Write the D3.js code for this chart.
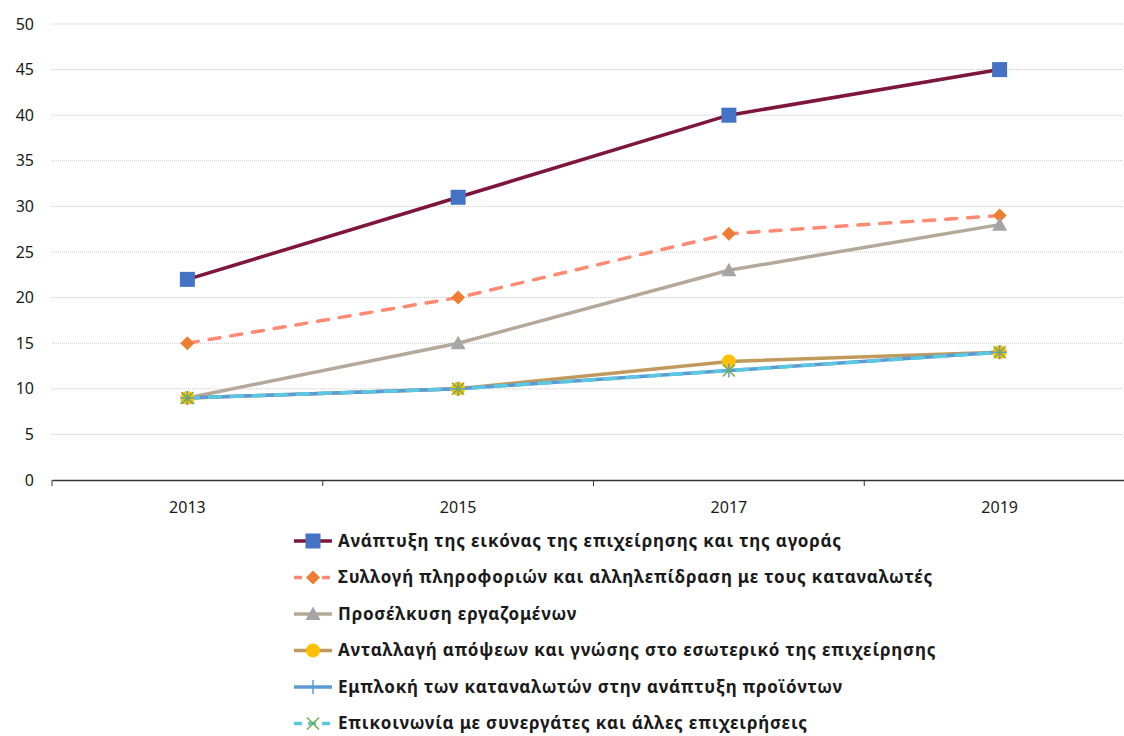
<!DOCTYPE html>
<html>
<head>
<meta charset="utf-8">
<script src="https://cdn.jsdelivr.net/npm/d3@7"></script>
<style>
  body { margin: 0; background: #fff; }
  svg text { font-family: "Noto Sans", sans-serif; fill: #1a1a1a; }
</style>
</head>
<body>
<div id="chart"></div>
<script>
const years = ["2013", "2015", "2017", "2019"];
const yTicks = [0, 5, 10, 15, 20, 25, 30, 35, 40, 45, 50];

const seriesNames = [
  "Ανάπτυξη της εικόνας της επιχείρησης και της αγοράς",
  "Συλλογή πληροφοριών και αλληλεπίδραση με τους καταναλωτές",
  "Προσέλκυση εργαζομένων",
  "Ανταλλαγή απόψεων και γνώσης στο εσωτερικό της επιχείρησης",
  "Εμπλοκή των καταναλωτών στην ανάπτυξη προϊόντων",
  "Επικοινωνία με συνεργάτες και άλλες επιχειρήσεις"
];
const imageValues = [22, 31, 40, 45];
const infoValues = [15, 20, 27, 29];
const recruitValues = [9, 15, 23, 28];
const exchangeValues = [9, 10, 13, 14];
const involveValues = [9, 10, 12, 14];
const partnerValues = [9, 10, 12, 14];

const styles = [
  {line: "#7d1638", marker: "square", mcolor: "#4472c4", dash: null},
  {line: "#ff8a73", marker: "diamond", mcolor: "#ed7d31", dash: "11,11"},
  {line: "#b5a899", marker: "triangle", mcolor: "#a5a5a5", dash: null},
  {line: "#c09a5c", marker: "circle", mcolor: "#ffc000", dash: null},
  {line: "#5b9bd5", marker: "plus", mcolor: "#5b9bd5", dash: null},
  {line: "#5bc8e0", marker: "cross", mcolor: "#70ad47", dash: "11,11"}
];
const allValues = [imageValues, infoValues, recruitValues, exchangeValues, involveValues, partnerValues];
const series = seriesNames.map((name, i) => ({name, values: allValues[i], style: styles[i]}));

const width = 1124, height = 736;
const margin = {top: 24, left: 52};
const plotRight = 1135, plotBottom = 480;

const svg = d3.select("#chart").append("svg")
  .attr("width", width).attr("height", height);

const x = d3.scaleBand().domain(years).range([margin.left, plotRight]);
const y = d3.scaleLinear().domain([0, 50]).range([plotBottom, margin.top]);

// gridlines
svg.append("g").selectAll("line")
  .data(yTicks.filter(d => d > 0))
  .enter().append("line")
  .attr("x1", margin.left).attr("x2", plotRight)
  .attr("y1", d => y(d)).attr("y2", d => y(d))
  .attr("stroke", "#c8c8c8").attr("stroke-width", 1)
  .attr("stroke-dasharray", "1,1");

// y labels
svg.append("g").selectAll("text")
  .data(yTicks).enter().append("text")
  .attr("x", 34).attr("y", d => y(d))
  .attr("dy", "0.35em").attr("text-anchor", "end")
  .attr("font-size", 16).text(d => d);

// x axis
const xAxis = d3.axisBottom(x).tickSize(0).tickSizeOuter(0);
const gx = svg.append("g").attr("transform", `translate(0,${plotBottom})`).call(xAxis);
gx.select(".domain").attr("stroke", "#333").attr("stroke-width", 1.3);
gx.selectAll(".tick text").attr("font-size", 16).attr("dy", 0).attr("y", 33)
  .attr("font-family", "Noto Sans").attr("fill", "#1a1a1a");
// category boundary ticks
svg.append("g").selectAll("line")
  .data(years).enter().append("line")
  .attr("x1", d => x(d)).attr("x2", d => x(d))
  .attr("y1", plotBottom).attr("y2", plotBottom + 6)
  .attr("stroke", "#333").attr("stroke-width", 1);

const line = d3.line()
  .x((d, i) => x(years[i]) + x.bandwidth() / 2)
  .y(d => y(d));

function drawMarker(g, type, color, cx, cy, s) {
  if (type === "square") {
    g.append("rect").attr("x", cx - 7.5).attr("y", cy - 7.5).attr("width", 15).attr("height", 15).attr("fill", color);
  } else if (type === "diamond") {
    const r = 7 * s;
    g.append("path").attr("d", `M${cx},${cy - r}L${cx + r},${cy}L${cx},${cy + r}L${cx - r},${cy}Z`).attr("fill", color);
  } else if (type === "triangle") {
    const r = 7.5 * s;
    g.append("path").attr("d", `M${cx},${cy - r}L${cx + r},${cy + r * 0.8}L${cx - r},${cy + r * 0.8}Z`).attr("fill", color);
  } else if (type === "circle") {
    g.append("circle").attr("cx", cx).attr("cy", cy).attr("r", 7 * s).attr("fill", color);
  } else if (type === "plus") {
    const r = 7 * s;
    g.append("path").attr("d", `M${cx},${cy - r}V${cy + r}M${cx - r},${cy}H${cx + r}`).attr("stroke", color).attr("stroke-width", 1.5);
  } else if (type === "cross") {
    const r = 6 * s;
    g.append("path").attr("d", `M${cx - r},${cy - r}L${cx + r},${cy + r}M${cx - r},${cy + r}L${cx + r},${cy - r}`).attr("stroke", color).attr("stroke-width", 1.5);
  }
}

// lines
const linesG = svg.append("g");
series.forEach(s => {
  linesG.append("path")
    .attr("d", line(s.values))
    .attr("fill", "none")
    .attr("stroke", s.style.line)
    .attr("stroke-width", 3.5)
    .attr("stroke-linecap", "round")
    .attr("stroke-dasharray", s.style.dash);
});
// markers
const markG = svg.append("g");
series.forEach(s => {
  s.values.forEach((v, i) => {
    drawMarker(markG, s.style.marker, s.style.mcolor, x(years[i]) + x.bandwidth() / 2, y(v), 1);
  });
});

// legend
const legend = svg.append("g");
series.forEach((s, i) => {
  const ly = 541 + i * 36.5;
  legend.append("line")
    .attr("x1", 294).attr("x2", 332).attr("y1", ly).attr("y2", ly)
    .attr("stroke", s.style.line).attr("stroke-width", 3.5)
    .attr("stroke-dasharray", s.style.dash ? "8,6" : null);
  drawMarker(legend, s.style.marker, s.style.mcolor, 313, ly, 1);
  legend.append("text")
    .attr("x", 338).attr("y", ly).attr("dy", "0.35em")
    .attr("font-size", 17).attr("font-weight", "bold")
    .attr("letter-spacing", "0.8px")
    .text(s.name);
});
</script>
</body>
</html>
